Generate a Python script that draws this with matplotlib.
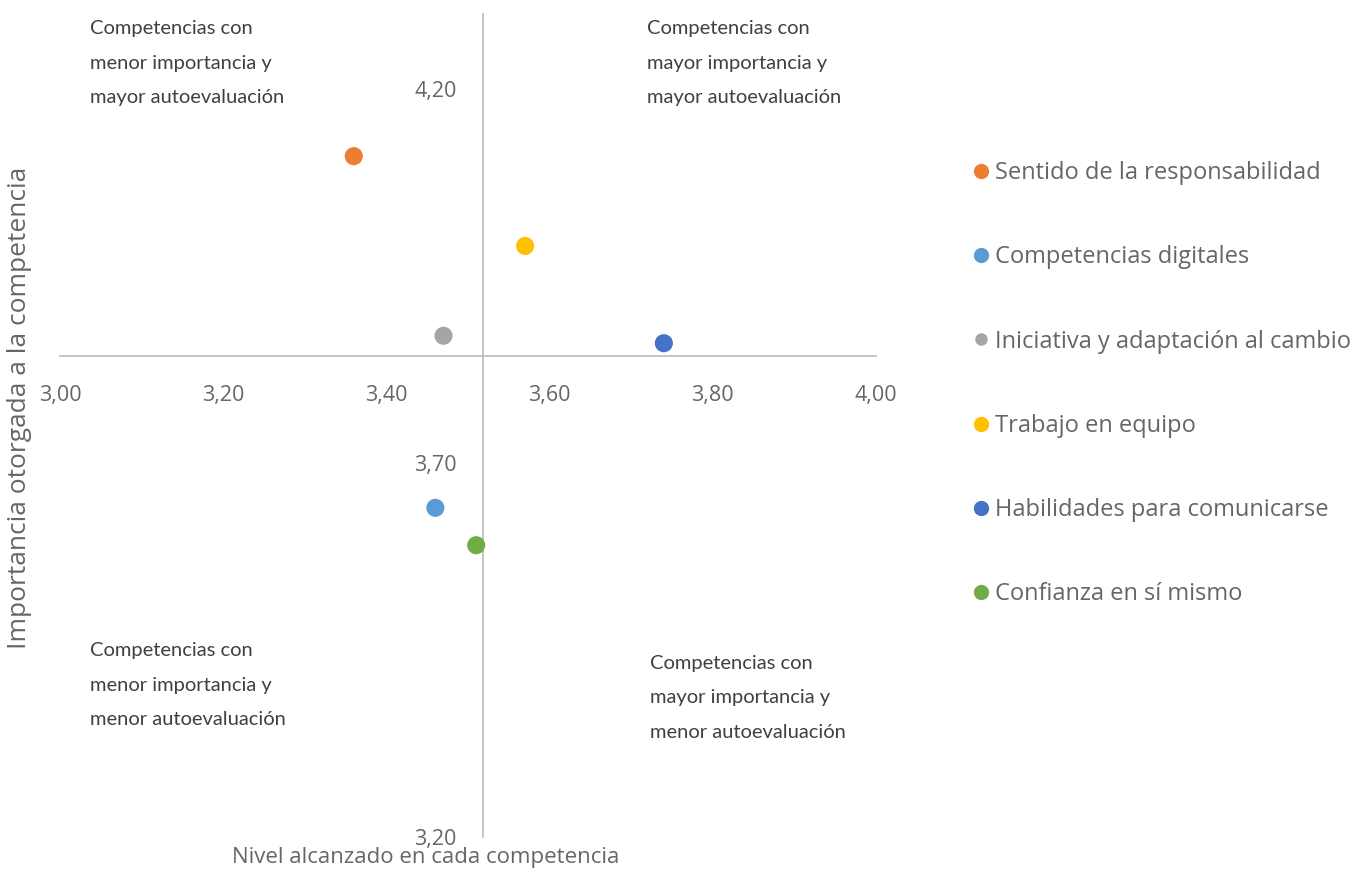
import numpy as np
import matplotlib.pyplot as plt
from matplotlib.lines import Line2D

# datos
competencias = [
    "Sentido de la responsabilidad",
    "Competencias digitales",
    "Iniciativa y adaptación al cambio",
    "Trabajo en equipo",
    "Habilidades para comunicarse",
    "Confianza en sí mismo",
]
nivel = [3.36, 3.46, 3.47, 3.57, 3.74, 3.51]
importancia = [4.11, 3.64, 3.87, 3.99, 3.86, 3.59]
colores = ["#ED7D31", "#5B9BD5", "#A5A5A5", "#FFC000", "#4472C4", "#70AD47"]

x_ticks = [3.0, 3.2, 3.4, 3.6, 3.8, 4.0]
y_ticks = [3.2, 3.7, 4.2]

cuadrantes = [
    "Competencias con\nmenor importancia y\nmayor autoevaluación",
    "Competencias con\nmayor importancia y\nmayor autoevaluación",
    "Competencias con\nmenor importancia y\nmenor autoevaluación",
    "Competencias con\nmayor importancia y\nmenor autoevaluación",
]

W, H = 1360, 876
gris = "#666666"
texto = "#404040"


def fx(px):
    return px / W


def fy(py):
    return 1 - py / H


fig = plt.figure(figsize=(W / 100, H / 100), dpi=100)
ax = fig.add_axes([fx(60), fy(837), fx(876) - fx(60), fy(14) - fy(837)])
ax.set_xlim(3.0, 4.0)
ax.set_ylim(3.2, 4.3)

for i in range(len(competencias)):
    ax.scatter(nivel[i], importancia[i], s=170, color=colores[i],
               edgecolors="none", zorder=3, label=competencias[i])

# los ejes se cruzan en el promedio de cada variable
cruce_x = np.mean(nivel)
cruce_y = np.mean(importancia)

for side in ["top", "right"]:
    ax.spines[side].set_visible(False)
ax.spines["left"].set_position(("data", cruce_x))
ax.spines["bottom"].set_position(("data", cruce_y))
for side in ["left", "bottom"]:
    ax.spines[side].set_color("#BFBFBF")
    ax.spines[side].set_linewidth(1.3)

ax.set_xticks(x_ticks)
ax.set_xticklabels([f"{v:.2f}".replace(".", ",") for v in x_ticks])
ax.set_yticks(y_ticks)
ax.set_yticklabels([f"{v:.2f}".replace(".", ",") for v in y_ticks])
ax.tick_params(axis="x", length=0, pad=21, labelsize=15.5, labelcolor=gris)
ax.tick_params(axis="y", length=0, pad=19, labelsize=15.5, labelcolor=gris)
for lbl in ax.get_xticklabels() + ax.get_yticklabels():
    lbl.set_fontfamily("Open Sans")

fig.text(fx(20), fy(408), "Importancia otorgada a la competencia", rotation=90,
         ha="center", va="center", fontsize=19, color=gris, family="Open Sans")
fig.text(fx(426), fy(858), "Nivel alcanzado en cada competencia",
         ha="center", va="center", fontsize=16, color=gris, family="Open Sans")

pos_cuadrantes = [(90, 20), (647, 20), (90, 642), (650, 655)]
for txt, (px, py) in zip(cuadrantes, pos_cuadrantes):
    fig.text(fx(px), fy(py), txt, ha="left", va="top", fontsize=14.5,
             color=texto, family="Lato", linespacing=2.25)

handles = []
for i in range(len(competencias)):
    ms = 9 if colores[i] == "#A5A5A5" else 11
    handles.append(Line2D([], [], marker="o", linestyle="none", markersize=ms,
                          color=colores[i], markeredgewidth=0))
leg = fig.legend(handles, competencias, loc="upper left",
                 bbox_to_anchor=(fx(948), fy(140)), frameon=False,
                 labelspacing=2.55, handletextpad=0.1, handlelength=1.0,
                 prop={"family": "Open Sans", "size": 17})
for t in leg.get_texts():
    t.set_color(gris)

fig.savefig("out.png", dpi=100)
